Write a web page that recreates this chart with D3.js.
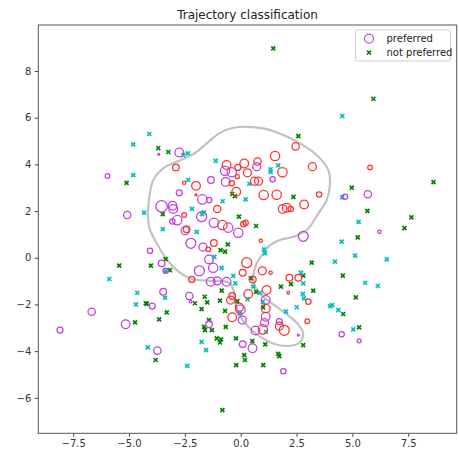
<!DOCTYPE html>
<html>
<head>
<meta charset="utf-8">
<script src="https://cdn.jsdelivr.net/npm/d3@7"></script>
<style>
  body { margin: 0; background: #fff; }
  text { font-family: "DejaVu Sans", sans-serif; }
</style>
</head>
<body>
<div class="ScatterChart"></div>
<script>
// not preferred (green x) : [x, y]
var notPreferred = [
  [1.46,8.97],[5.94,6.81],[2.58,5.21],[-3.69,4.69],[-3.24,4.53],[-5.11,3.21],[4.97,3.0],[8.63,3.24],
  [-0.38,2.73],[-0.26,2.64],[2.36,2.61],[5.67,2.01],[-3.49,1.87],[-0.08,1.76],[7.64,1.73],[0.69,1.36],
  [7.33,1.27],[-5.44,-0.34],[-4.02,-0.34],[-3.36,-0.06],[-3.17,-0.53],[-4.73,-2.77],[-4.25,-1.95],[-4.20,-1.98],
  [-3.65,-2.64],[-3.31,-2.34],[-3.81,-4.38],[-2.05,-1.95],[-1.75,-2.20],[-1.50,-1.91],[-1.61,-1.67],[-1.64,-2.96],
  [-1.60,-3.10],[-1.42,-2.67],[-1.29,-3.10],[-1.07,-3.45],[-0.93,-3.63],[-0.88,-3.50],[-0.85,-1.41],[-0.93,-1.84],
  [-0.67,-2.96],[-0.70,-2.28],[-0.21,-3.45],[-0.20,-4.60],[-0.82,-6.53],[-0.15,-1.86],[-0.58,0.57],[-0.90,0.33],
  [-0.70,0.26],[0.16,-4.17],[0.19,-4.38],[0.52,-3.57],[0.45,-0.88],[0.69,-1.46],[1.01,-4.60],[1.10,-3.71],
  [1.00,-2.13],[1.80,-1.24],[2.25,-1.13],[1.68,-4.12],[1.73,-4.21],[2.80,-0.77],[2.80,-3.74],[3.18,-0.21],
  [3.25,-1.41],[4.57,-0.77],[4.59,-2.41],[5.15,-1.70],[5.30,-2.98],[5.24,0.87]
];

// second not-preferred group (cyan x), unlabeled : [x, y]
var notPreferredB = [
  [-4.09,5.30],[-4.81,4.86],[4.55,6.07],[-2.57,4.40],[-2.37,4.47],[-4.81,3.54],[-1.12,4.15],[-2.35,3.33],
  [1.34,3.79],[1.34,3.68],[1.68,3.96],[0.39,3.17],[0.22,2.50],[-0.81,2.42],[-2.18,2.09],[-4.32,1.93],
  [-1.64,1.94],[-1.73,1.87],[4.55,2.59],[5.28,1.54],[-3.49,1.23],[-1.97,1.11],[1.04,0.36],[1.09,0.19],
  [-5.88,-0.91],[-4.63,-1.50],[-4.69,-2.0],[-3.39,-1.71],[-3.36,-0.57],[-4.16,-3.84],[-2.39,-4.63],[-1.75,-3.60],
  [-1.55,-3.96],[-1.18,0.04],[-0.85,-0.43],[-0.33,-0.78],[-0.24,-1.10],[0.31,-1.77],[0.56,-1.24],[0.86,-1.50],
  [0.99,-1.88],[1.13,-3.17],[2.03,-2.31],[2.51,-2.12],[2.70,-0.64],[2.80,-1.10],[2.78,-1.55],[2.83,-1.74],
  [4.0,-2.07],[4.10,-2.03],[4.22,-0.17],[4.52,0.69],[4.37,-2.24],[5.12,0.09],[5.04,-3.07],[5.57,-1.07],
  [6.14,-1.21],[6.54,-0.07],[-0.03,-2.38]
];

// preferred (magenta circles) : [x, y, weight]
var preferred = [
  [-5.96,3.50,7],[-2.75,4.51,13],[-3.67,4.43,3],[-2.75,2.78,9],[-1.33,3.33,10],[-0.70,3.73,14],[-0.40,3.66,14],
  [0.72,3.90,12],[1.43,3.36,8],[-0.67,3.25,13],[-1.72,2.50,14],[-1.41,2.47,8],[-3.54,2.20,17],[-3.05,2.23,13],
  [-3.02,2.09,13],[-5.08,1.83,11],[-1.75,1.76,15],[-2.84,1.61,14],[-3.06,1.55,8],[-1.20,1.50,14],[-0.56,1.29,14],
  [-0.11,1.07,14],[-2.49,1.16,12],[-2.23,0.62,15],[-1.69,0.46,12],[2.80,0.92,15],[4.67,2.61,8],[5.69,2.72,11],
  [6.21,1.11,5],[-8.09,-3.10,9],[-6.67,-2.31,11],[-5.15,-2.85,13],[-4.06,0.30,8],[-3.54,-0.24,10],[-3.36,-0.56,8],
  [-3.47,-1.46,10],[-3.96,-2.07,9],[-3.73,-3.98,11],[-2.30,-1.64,11],[-2.24,-1.88,4],[-1.42,-2.85,10],[-1.85,-0.56,15],
  [-1.42,-0.07,13],[-1.23,-0.43,14],[-1.34,-1.03,13],[-1.05,-0.99,12],[-0.63,-1.03,13],[-0.01,-2.22,14],[0.07,-2.67,12],
  [0.09,-3.70,10],[0.53,-3.88,13],[0.66,-3.12,13],[1.12,-1.81,13],[1.12,-2.53,13],[1.07,-2.78,12],[1.73,-2.74,9],
  [1.91,-4.86,8],[2.58,-3.31,3],[4.52,-3.28,8],[5.30,-3.56,6]
];

// second preferred group (red circles), unlabeled : [x, y, weight]
var preferredB = [
  [-2.90,3.87,10],[-0.63,3.97,13],[-0.13,3.87,9],[0.16,4.04,13],[0.30,3.64,12],[0.75,4.12,11],[1.54,4.36,14],
  [1.87,3.66,14],[2.46,4.77,11],[3.21,3.90,12],[5.79,3.87,7],[-0.15,3.47,6],[-0.40,3.19,8],[0.62,3.28,12],
  [0.80,3.28,12],[-2.00,3.08,13],[-2.53,3.21,5],[-2.00,2.69,3],[-0.20,2.83,13],[1.03,2.69,14],[1.61,2.70,14],
  [3.51,2.71,8],[2.84,2.28,13],[1.88,2.09,13],[2.06,2.14,13],[2.24,2.09,8],[-1.05,2.09,11],[-2.53,1.83,7],
  [-0.82,1.40,14],[0.12,1.44,8],[0.22,1.50,8],[-2.42,1.22,10],[-1.20,0.63,10],[-1.45,0.36,7],[0.90,0.73,5],
  [-2.19,-0.93,9],[0.27,-0.21,15],[0.09,-0.64,10],[0.97,-0.56,12],[1.34,-0.64,5],[0.54,-0.93,10],[0.34,-1.55,13],
  [-0.38,-1.64,10],[-0.45,-1.81,12],[-0.06,-2.12,12],[-0.38,-2.55,13],[1.16,-1.38,13],[1.12,-2.17,13],[0.99,-3.07,14],
  [1.73,-2.93,12],[1.95,-3.11,15],[2.18,-0.86,10],[2.58,-0.86,10],[2.13,-1.50,4],[3.03,-1.88,8],[2.98,-2.72,7]
];

// decision boundary
var boundaryX = [0.27,1.01,1.91,2.66,3.40,3.92,4.0,3.85,3.48,2.96,2.36,1.76,1.31,1.01,0.72,0.56,0.64,1.01,1.61,2.21,
  2.66,2.80,2.58,2.06,1.46,0.86,0.34,-0.11,-0.26,-0.33,-0.48,-0.78,-1.23,-1.82,-2.19,-2.57,-3.02,-3.39,-3.76,-4.06,
  -4.14,-4.11,-3.91,-3.47,-2.87,-2.12,-1.52,-0.93,-0.33];
var boundaryY = [5.61,5.54,5.26,4.90,4.40,3.76,3.19,2.47,1.90,1.19,0.90,0.76,0.54,0.19,-0.24,-0.81,-1.24,-1.67,-2.10,-2.53,
  -2.96,-3.31,-3.67,-3.78,-3.67,-3.38,-2.96,-2.38,-1.81,-1.38,-1.10,-1.0,-0.99,-0.96,-0.91,-0.74,-0.39,0.04,0.62,1.19,
  1.61,2.47,3.33,3.83,4.11,4.44,4.90,5.35,5.57];

var xTicks = [-7.5, -5.0, -2.5, 0.0, 2.5, 5.0, 7.5];
var yTicks = [-6, -4, -2, 0, 2, 4, 6, 8];

var margin = {top: 25, right: 2.3, bottom: 19.7, left: 38.3},
    width = 459 - margin.left - margin.right,
    height = 453 - margin.top - margin.bottom;

var svg = d3.select(".ScatterChart").append("svg")
    .attr("width", width + margin.left + margin.right)
    .attr("height", height + margin.top + margin.bottom)
  .append("g")
    .attr("transform", "translate(" + margin.left + "," + margin.top + ")");

var x = d3.scaleLinear().domain([-9.06, 9.67]).range([0, width]);
var y = d3.scaleLinear().domain([-7.52, 9.97]).range([height, 0]);
var r = d3.scaleLinear().domain([0, 18]).range([0, 6]);

var xAxis = d3.axisBottom(x).tickValues(xTicks).tickFormat(d3.format(".1f")).tickSizeInner(3.5).tickSizeOuter(0).tickPadding(3.5);
var yAxis = d3.axisLeft(y).tickValues(yTicks).tickFormat(d3.format("d")).tickSizeInner(3.5).tickSizeOuter(0).tickPadding(3.5);

var cross = "M-2,-2L2,2M-2,2L2,-2";

// boundary contour
var boundary = boundaryX.map(function(d, i) { return [d, boundaryY[i]]; });
svg.append("path")
    .datum(boundary)
    .attr("d", d3.line()
      .x(function(d) { return x(d[0]); })
      .y(function(d) { return y(d[1]); })
      .curve(d3.curveCatmullRomClosed))
    .attr("fill", "none")
    .attr("stroke", "#c2c2c2")
    .attr("stroke-width", 2.2);

function drawCrosses(data, color) {
  svg.append("g").selectAll("path")
      .data(data)
      .enter().append("path")
      .attr("d", cross)
      .attr("transform", function(d) { return "translate(" + x(d[0]) + "," + y(d[1]) + ")"; })
      .attr("stroke", color)
      .attr("stroke-width", 1.7)
      .attr("fill", "none");
}

function drawCircles(data, color) {
  svg.append("g").selectAll("circle")
      .data(data)
      .enter().append("circle")
      .attr("cx", function(d) { return x(d[0]); })
      .attr("cy", function(d) { return y(d[1]); })
      .attr("r", function(d) { return r(d[2]); })
      .attr("fill", "none")
      .attr("stroke", color)
      .attr("stroke-width", 1.25);
}

drawCrosses(notPreferred, "#008000");
drawCrosses(notPreferredB, "#00bfbf");
drawCircles(preferred, "#c23fdc");
drawCircles(preferredB, "#ff3030");

// axes
svg.append("g")
    .attr("class", "x axis")
    .attr("transform", "translate(0," + height + ")")
    .call(xAxis);

svg.append("g")
    .attr("class", "y axis")
    .call(yAxis);

svg.selectAll(".axis .domain").remove();
svg.selectAll(".axis line").attr("stroke", "#444");
svg.selectAll(".axis text").attr("fill", "#333").style("font-size", "10px").style("font-family", "DejaVu Sans");

// frame
svg.append("rect")
    .attr("width", width)
    .attr("height", height)
    .attr("fill", "none")
    .attr("stroke", "#555")
    .attr("stroke-width", 1);

// title
svg.append("text")
    .attr("text-anchor", "middle")
    .attr("x", width / 2)
    .attr("y", -6)
    .attr("fill", "#222")
    .style("font-size", "12px")
    .text("Trajectory classification");

// legend
var lg = svg.append("g").attr("transform", "translate(" + (355.5 - margin.left) + "," + (30 - margin.top) + ")");
lg.append("rect")
    .attr("width", 95)
    .attr("height", 31)
    .attr("rx", 2)
    .attr("fill", "#fff")
    .attr("fill-opacity", 0.8)
    .attr("stroke", "#cccccc")
    .attr("stroke-width", 1);
lg.append("circle")
    .attr("cx", 13.5).attr("cy", 8.5).attr("r", 4.5)
    .attr("fill", "none").attr("stroke", "#c23fdc").attr("stroke-width", 1.25);
lg.append("path")
    .attr("d", cross)
    .attr("transform", "translate(13.5,22.5)")
    .attr("stroke", "#008000").attr("stroke-width", 1.7).attr("fill", "none");
lg.append("text").attr("x", 31).attr("y", 12).attr("fill", "#222").style("font-size", "10px").text("preferred");
lg.append("text").attr("x", 31).attr("y", 26).attr("fill", "#222").style("font-size", "10px").text("not preferred");
</script>
</body>
</html>
